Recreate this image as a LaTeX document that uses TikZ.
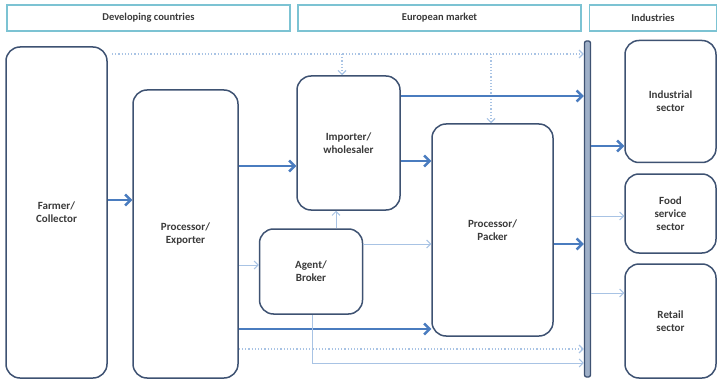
\documentclass[tikz,border=0pt]{standalone}
\usepackage{fontspec}
\setmainfont{Carlito}
\usetikzlibrary{arrows.meta}
\definecolor{hdr}{HTML}{7CC3D3}
\definecolor{boxc}{HTML}{3E5272}
\definecolor{thick}{HTML}{4A7CBF}
\definecolor{thin}{HTML}{A8C3E4}
\definecolor{txt}{HTML}{3A3A3A}
\definecolor{barfill}{HTML}{9FB0C8}
\tikzset{
  hdrbox/.style={draw=hdr, line width=1.6pt, font=\bfseries\fontsize{10.5}{12}\selectfont, text=txt},
  actor/.style={draw=boxc, line width=1.5pt, rounded corners=14pt, font=\bfseries\fontsize{11}{13}\selectfont, text=txt, align=center},
  bar/.style={draw=boxc, fill=barfill, line width=1.3pt, rounded corners=2pt},
  flowA/.style={draw=thick, line width=2.4pt, -{Straight Barb[length=5.5pt,width=11pt]}},
  flowB/.style={draw=thin, line width=1pt, -{Straight Barb[length=4pt,width=8pt]}},
  flowC/.style={draw=thin, line width=1.2pt, dotted, -{Straight Barb[length=4pt,width=8pt]}},
}
\begin{document}
\begin{tikzpicture}[x=1pt,y=-1pt]
\useasboundingbox (0,0) rectangle (719,382);
% headers
\node[hdrbox, minimum width=283pt, minimum height=26pt] (h1) at (148.5,18) {Developing countries};
\node[hdrbox, minimum width=283pt, minimum height=26pt] (h2) at (439.5,18) {European market};
\node[hdrbox, minimum width=127pt, minimum height=26pt] (h3) at (653,18) {Industries};
% actors
\node[actor, minimum width=101pt, minimum height=331pt] (farm) at (56.5,212.5) {Farmer/\\Collector};
\node[actor, minimum width=105pt, minimum height=288pt] (exp) at (185.5,234) {Processor/\\Exporter};
\node[actor, minimum width=103pt, minimum height=134pt] (imp) at (348.5,143) {Importer/\\wholesaler};
\node[actor, minimum width=103pt, minimum height=85pt] (agent) at (311,271.5) {Agent/\\Broker};
\node[actor, minimum width=121pt, minimum height=212pt] (pack) at (492.5,230) {Processor/\\Packer};
\node[bar, minimum width=6pt, minimum height=336pt, inner sep=0pt] (bar) at (587.5,209) {};
\node[actor, minimum width=91pt, minimum height=122pt] (ind) at (670.5,101.5) {Industrial\\sector};
\node[actor, minimum width=91pt, minimum height=79pt] (food) at (670.5,213.5) {Food\\service\\sector};
\node[actor, minimum width=91pt, minimum height=114pt] (ret) at (670.5,321) {Retail\\sector};
% coordinates
\coordinate (topL) at (112,54);
\coordinate (topA) at (342,54);
\coordinate (topB) at (491,54);
\coordinate (bend) at (312,363);
% dotted top
\draw[flowC] (topL) -- (topL -| bar.west);
\draw[flowC] (topA) -- (topA |- imp.north);
\draw[flowC] (topB) -- (topB |- pack.north);
% thick flows
\draw[flowA] (farm.east |- 0,200) -- (exp.west |- 0,200);
\draw[flowA] (exp.east |- 0,166) -- (imp.west |- 0,166);
\draw[flowA] (imp.east |- 0,96) -- (bar.west |- 0,96);
\draw[flowA] (imp.east |- 0,161) -- (pack.west |- 0,161);
\draw[flowA] (pack.east |- 0,244) -- (bar.west |- 0,244);
\draw[flowA] (exp.east |- 0,329) -- (pack.west |- 0,329);
\draw[flowA] (bar.east |- 0,146) -- (ind.west |- 0,146);
% thin flows
\draw[flowB] (exp.east |- 0,265) -- (agent.west |- 0,265);
\draw[flowB] (agent.north -| 336,0) -- (imp.south -| 336,0);
\draw[flowB] (agent.east |- 0,244) -- (pack.west |- 0,244);
\draw[flowB] (agent.south -| bend) -- (bend) -- (bend -| bar.west);
\draw[flowB] (bar.east |- 0,216) -- (food.west |- 0,216);
\draw[flowB] (bar.east |- 0,293) -- (ret.west |- 0,293);
% dotted bottom
\draw[flowC] (exp.east |- 0,349) -- (bar.west |- 0,349);
\end{tikzpicture}
\end{document}
